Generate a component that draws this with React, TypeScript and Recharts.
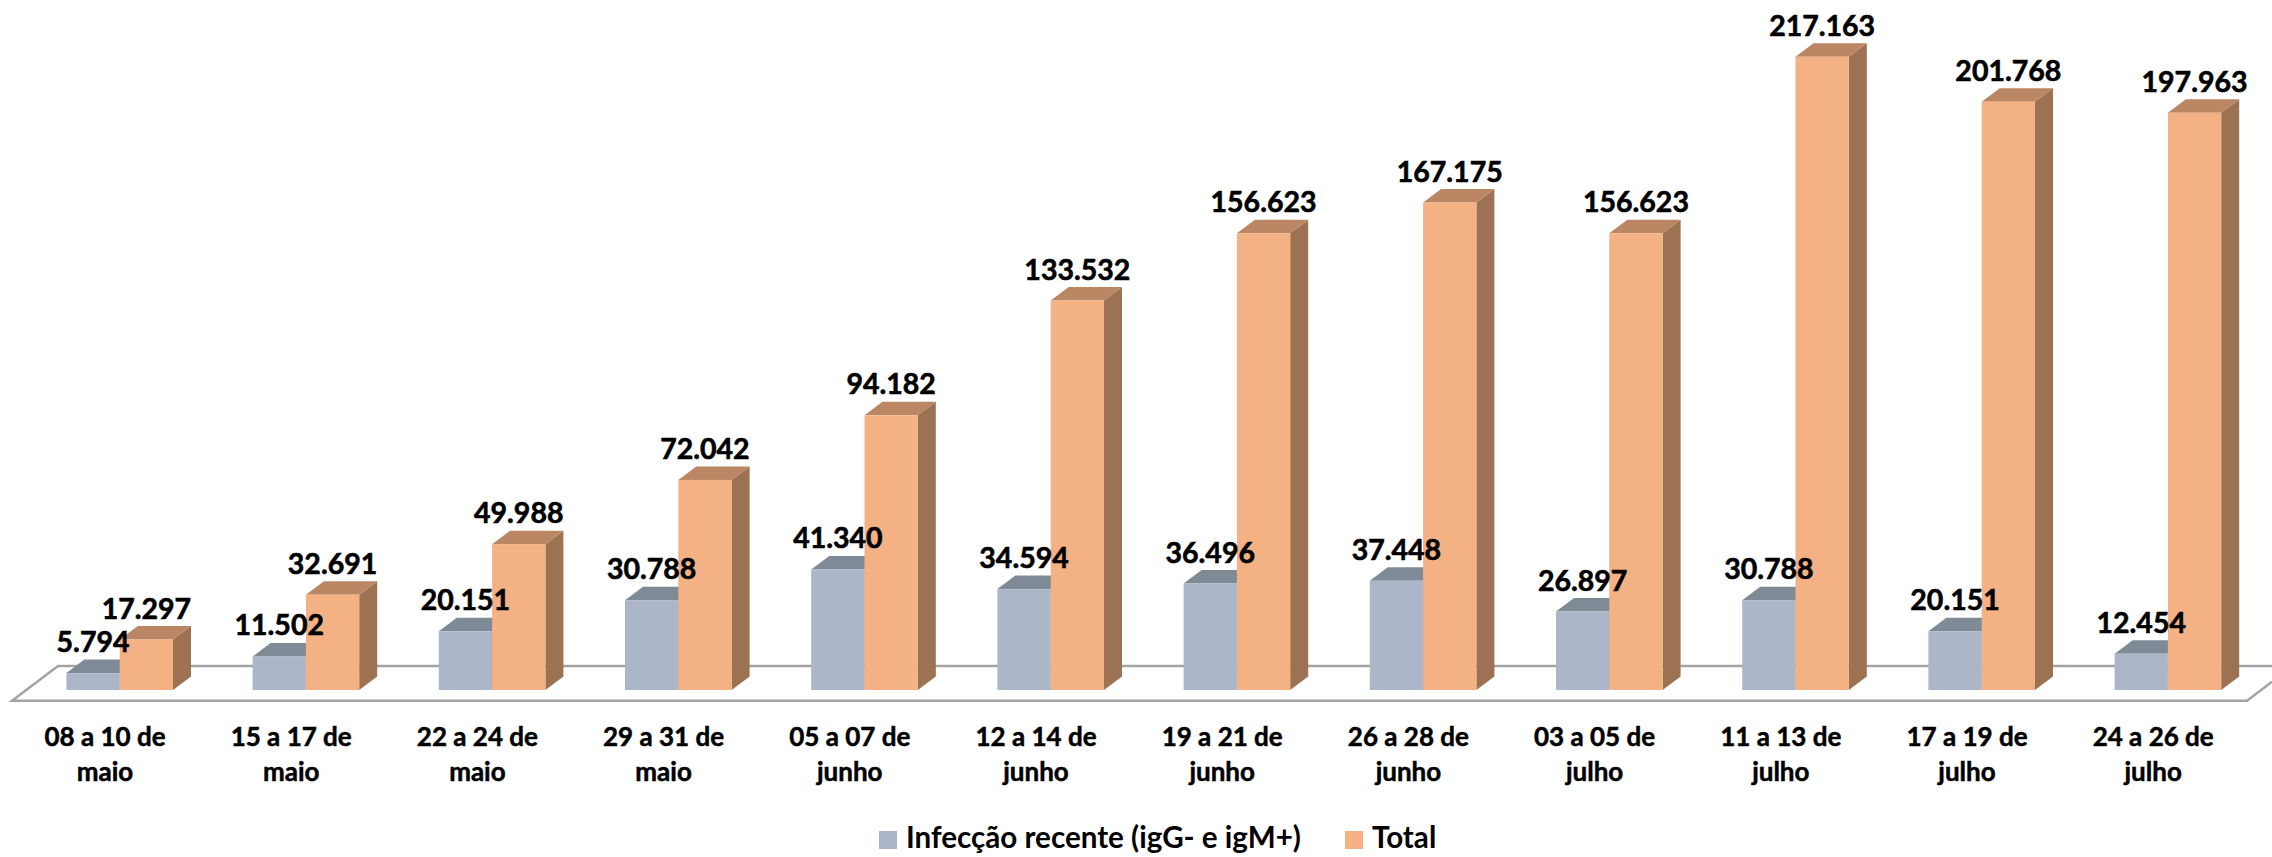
import { BarChart, Bar, XAxis, YAxis, Legend, LabelList } from 'recharts';

const categories = [
    '08 a 10 de maio', '15 a 17 de maio', '22 a 24 de maio', '29 a 31 de maio',
    '05 a 07 de junho', '12 a 14 de junho', '19 a 21 de junho', '26 a 28 de junho',
    '03 a 05 de julho', '11 a 13 de julho', '17 a 19 de julho', '24 a 26 de julho',
];
const recentInfection = [5794, 11502, 20151, 30788, 41340, 34594, 36496, 37448, 26897, 30788, 20151, 12454];
const total = [17297, 32691, 49988, 72042, 94182, 133532, 156623, 167175, 156623, 217163, 201768, 197963];

const data = categories.map((name, i) => ({ name, recent: recentInfection[i], total: total[i] }));

const FONT = 'Lato, sans-serif';
const DEPTH_X = 18;
const DEPTH_Y = 13.5;

const formatValue = (v: number) => String(v).replace(/\B(?=(\d{3})+$)/g, '.');

// front face + top + right side, faking the 3D column
const Column = ({ x, y, width, height, fill, top, side }: any) => (
    <g>
        <path d={`M${x + width},${y} l${DEPTH_X},${-DEPTH_Y} v${height} l${-DEPTH_X},${DEPTH_Y} z`} fill={side} />
        <path d={`M${x},${y} l${DEPTH_X},${-DEPTH_Y} h${width} l${-DEPTH_X},${DEPTH_Y} z`} fill={top} />
        <rect x={x} y={y} width={width} height={height} fill={fill} />
    </g>
);

const CategoryTick = ({ x, y, payload }: any) => {
    const idx = payload.value.lastIndexOf(' ');
    return (
        <text textAnchor="middle" fontFamily={FONT} fontWeight={700} fontSize={26} fill="#000" stroke="#000" strokeWidth={0.5}>
            <tspan x={x - 14.5} y={y + 49.5}>{payload.value.slice(0, idx)}</tspan>
            <tspan x={x - 14.5} y={y + 84.7}>{payload.value.slice(idx + 1)}</tspan>
        </text>
    );
};

export default function App() {
    return (
        <div style={{ position: 'absolute', left: 0, top: 0, width: 2272, height: 857, overflow: 'hidden' }}>
            <BarChart
                width={2272}
                height={857}
                data={data}
                barSize={53.3}
                barGap={0}
                margin={{ top: 19.3, right: 11.2, bottom: 0, left: 26.4 }}
            >
                <polyline
                    points="2272,666 58,666 12,700.7 2247,700.7 2272,681.8"
                    fill="none"
                    stroke="#A3A3A3"
                    strokeWidth={2.5}
                />
                <XAxis dataKey="name" axisLine={false} tickLine={false} interval={0} tick={<CategoryTick />} tickMargin={0} height={132} />
                <YAxis hide domain={[0, 230000]} />
                <Legend
                    iconType="square"
                    iconSize={18}
                    wrapperStyle={{ left: 879, top: 819, width: 'auto', bottom: 'auto', fontFamily: FONT, fontWeight: 700, fontSize: 29.6 }}
                    formatter={(value: string) => <span style={{ color: '#000', marginLeft: 5, marginRight: 34 }}>{value}</span>}
                />
                <Bar
                    dataKey="recent"
                    name="Infecção recente (igG- e igM+)"
                    fill="#ABB6C8"
                    isAnimationActive={false}
                    shape={<Column top="#7F8A97" side="#7F8A97" />}
                >
                    <LabelList dataKey="recent" position="top" offset={21} formatter={formatValue} fontFamily={FONT} fontWeight={700} fontSize={28.5} fill="#000" stroke="#000" strokeWidth={0.6} />
                </Bar>
                <Bar
                    dataKey="total"
                    name="Total"
                    fill="#F4B183"
                    isAnimationActive={false}
                    shape={<Column top="#BA8663" side="#9C7252" />}
                >
                    <LabelList dataKey="total" position="top" offset={21} formatter={formatValue} fontFamily={FONT} fontWeight={700} fontSize={28.5} fill="#000" stroke="#000" strokeWidth={0.6} />
                </Bar>
            </BarChart>
        </div>
    );
}
